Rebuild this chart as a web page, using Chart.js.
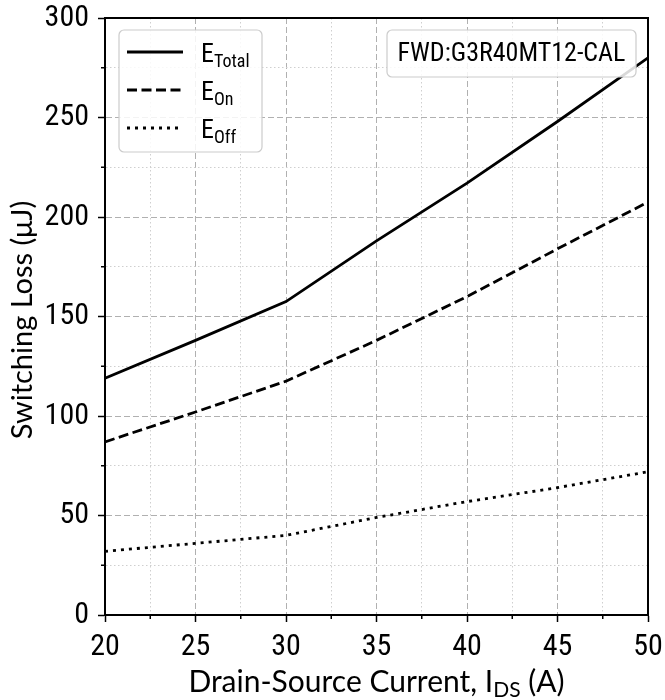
<!DOCTYPE html>
<html><head><meta charset="utf-8">
<script src="https://cdn.jsdelivr.net/npm/chart.js@4/dist/chart.umd.min.js"></script>
<style>html,body{margin:0;padding:0;background:#fff}#wrap{width:665px;height:700px}</style>
</head><body><div id="wrap"><canvas id="c" width="665" height="700"></canvas></div>
<script>
const currents = [20, 25, 30, 35, 40, 45, 50];
const eTotal = [119, 138, 157.5, 188, 217, 248, 280];
const eOn = [87, 102, 117.5, 138, 160, 184, 207.5];
const eOff = [32, 36, 40, 49, 57, 64, 72];
const seriesNames = [['E', 'Total'], ['E', 'On'], ['E', 'Off']];
const xTitle = ['Drain-Source Current, I', 'DS', ' (A)'];
const yTitle = 'Switching Loss (\u03bcJ)';
const annotationText = 'FWD:G3R40MT12-CAL';

const TICKFONT = '"Liberation Sans Narrow", "Roboto Condensed", Roboto, sans-serif';
const isMajorX = v => Math.abs(v % 5) < 1e-6;
const isMajorY = v => Math.abs(v % 50) < 1e-6;
const toPts = ys => currents.map((x, i) => ({x, y: ys[i]}));
const dashes = [[], [10, 4.5], [3, 5]];
const LW = 2.8;
const zeroPad = s => { s.paddingTop = 0; s.paddingBottom = 0; s.paddingLeft = 0; s.paddingRight = 0; };

const decor = {
  id: 'decor',
  afterDraw(chart) {
    const {ctx, chartArea: a, scales} = chart;
    ctx.save();
    // minor tick marks
    ctx.strokeStyle = '#000'; ctx.lineWidth = 1.5;
    scales.x.ticks.forEach(t => { if (!isMajorX(t.value)) { const px = scales.x.getPixelForValue(t.value); ctx.beginPath(); ctx.moveTo(px, a.bottom); ctx.lineTo(px, a.bottom + 4); ctx.stroke(); } });
    scales.y.ticks.forEach(t => { if (!isMajorY(t.value)) { const py = scales.y.getPixelForValue(t.value); ctx.beginPath(); ctx.moveTo(a.left, py); ctx.lineTo(a.left - 4, py); ctx.stroke(); } });
    // frame
    ctx.lineWidth = 2; ctx.strokeStyle = '#000';
    ctx.strokeRect(a.left, a.top, a.right - a.left, a.bottom - a.top);
    // legend
    const rr = (x, y, w, h, r) => { ctx.beginPath(); ctx.moveTo(x + r, y); ctx.arcTo(x + w, y, x + w, y + h, r); ctx.arcTo(x + w, y + h, x, y + h, r); ctx.arcTo(x, y + h, x, y, r); ctx.arcTo(x, y, x + w, y, r); ctx.closePath(); };
    ctx.lineWidth = 1.2; ctx.strokeStyle = '#cccccc'; ctx.fillStyle = 'rgba(255,255,255,0.85)';
    rr(119, 30, 143, 122, 5); ctx.fill(); ctx.stroke();
    const ys = [52, 90, 128];
    seriesNames.forEach((nm, i) => {
      ctx.strokeStyle = '#000'; ctx.lineWidth = LW; ctx.setLineDash(dashes[i]); ctx.lineCap = 'butt';
      ctx.beginPath(); ctx.moveTo(127, ys[i]); ctx.lineTo(183, ys[i]); ctx.stroke();
      ctx.setLineDash([]);
      ctx.fillStyle = '#000'; ctx.textBaseline = 'alphabetic'; ctx.textAlign = 'left';
      ctx.font = '26px ' + TICKFONT;
      ctx.fillText(nm[0], 201, ys[i] + 10);
      const w = ctx.measureText(nm[0]).width;
      ctx.font = '18px ' + TICKFONT;
      ctx.fillText(nm[1], 201 + w, ys[i] + 15);
    });
    // annotation
    ctx.lineWidth = 1.2; ctx.strokeStyle = '#cccccc'; ctx.fillStyle = 'rgba(255,255,255,0.85)';
    rr(387, 30, 249, 47, 5); ctx.fill(); ctx.stroke();
    ctx.fillStyle = '#000'; ctx.font = '26px ' + TICKFONT; ctx.textAlign = 'center'; ctx.textBaseline = 'middle';
    ctx.fillText(annotationText, 511.5, 54);
    // x title
    const BIG = '30px Lato, sans-serif', SMALL = '21px Lato, sans-serif';
    ctx.font = BIG; ctx.textBaseline = 'alphabetic'; ctx.textAlign = 'left';
    const w1 = ctx.measureText(xTitle[0]).width, w3 = ctx.measureText(xTitle[2]).width;
    ctx.font = SMALL;
    const w2 = ctx.measureText(xTitle[1]).width;
    let x0 = (a.left + a.right) / 2 - (w1 + w2 + w3) / 2;
    const base = 692;
    ctx.font = BIG; ctx.fillText(xTitle[0], x0, base);
    ctx.font = SMALL; ctx.fillText(xTitle[1], x0 + w1, base + 5);
    ctx.font = BIG; ctx.fillText(xTitle[2], x0 + w1 + w2, base);
    // y title
    ctx.font = '29px Lato, sans-serif';
    ctx.translate(32, 320); ctx.rotate(-Math.PI / 2);
    ctx.textAlign = 'center'; ctx.fillText(yTitle, 0, 0);
    ctx.restore();
  }
};

new Chart(document.getElementById('c'), {
  type: 'line',
  data: {
    datasets: [
      {label: 'ETotal', data: toPts(eTotal), borderColor: '#000', borderWidth: LW, pointRadius: 0, borderDash: dashes[0], tension: 0},
      {label: 'EOn', data: toPts(eOn), borderColor: '#000', borderWidth: LW, pointRadius: 0, borderDash: dashes[1], tension: 0},
      {label: 'EOff', data: toPts(eOff), borderColor: '#000', borderWidth: LW, pointRadius: 0, borderDash: dashes[2], tension: 0}
    ]
  },
  options: {
    responsive: false, animation: false,
    layout: {padding: {top: 18, right: 17, left: 0, bottom: 0}},
    plugins: {legend: {display: false}, tooltip: {enabled: false}},
    scales: {
      x: {
        type: 'linear', min: 20, max: 50,
        afterFit: s => { s.height = 85; zeroPad(s); },
        ticks: {stepSize: 2.5, autoSkip: false, maxRotation: 0, color: '#000', padding: 7,
          font: {family: TICKFONT, size: 30},
          callback: v => isMajorX(v) ? String(v) : ''},
        grid: {color: c => (c.tick && isMajorX(c.tick.value)) ? '#b0b0b0' : '#cfcfcf', lineWidth: 1,
          tickColor: c => (c.tick && isMajorX(c.tick.value)) ? '#000' : 'rgba(0,0,0,0)', tickLength: 7, tickWidth: 1.5},
        border: {display: true, color: '#000', width: 2,
          dash: c => c.tick ? (isMajorX(c.tick.value) ? [6, 3] : [1.5, 2.5]) : []}
      },
      y: {
        type: 'linear', min: 0, max: 300,
        afterFit: s => { s.width = 105; zeroPad(s); },
        ticks: {stepSize: 25, autoSkip: false, color: '#000', padding: 9,
          font: {family: TICKFONT, size: 30},
          callback: v => isMajorY(v) ? String(v) : ''},
        grid: {color: c => (c.tick && isMajorY(c.tick.value)) ? '#b0b0b0' : '#cfcfcf', lineWidth: 1,
          tickColor: c => (c.tick && isMajorY(c.tick.value)) ? '#000' : 'rgba(0,0,0,0)', tickLength: 7, tickWidth: 1.5},
        border: {display: true, color: '#000', width: 2,
          dash: c => c.tick ? (isMajorY(c.tick.value) ? [6, 3] : [1.5, 2.5]) : []}
      }
    }
  },
  plugins: [decor]
});
</script>
</body></html>
